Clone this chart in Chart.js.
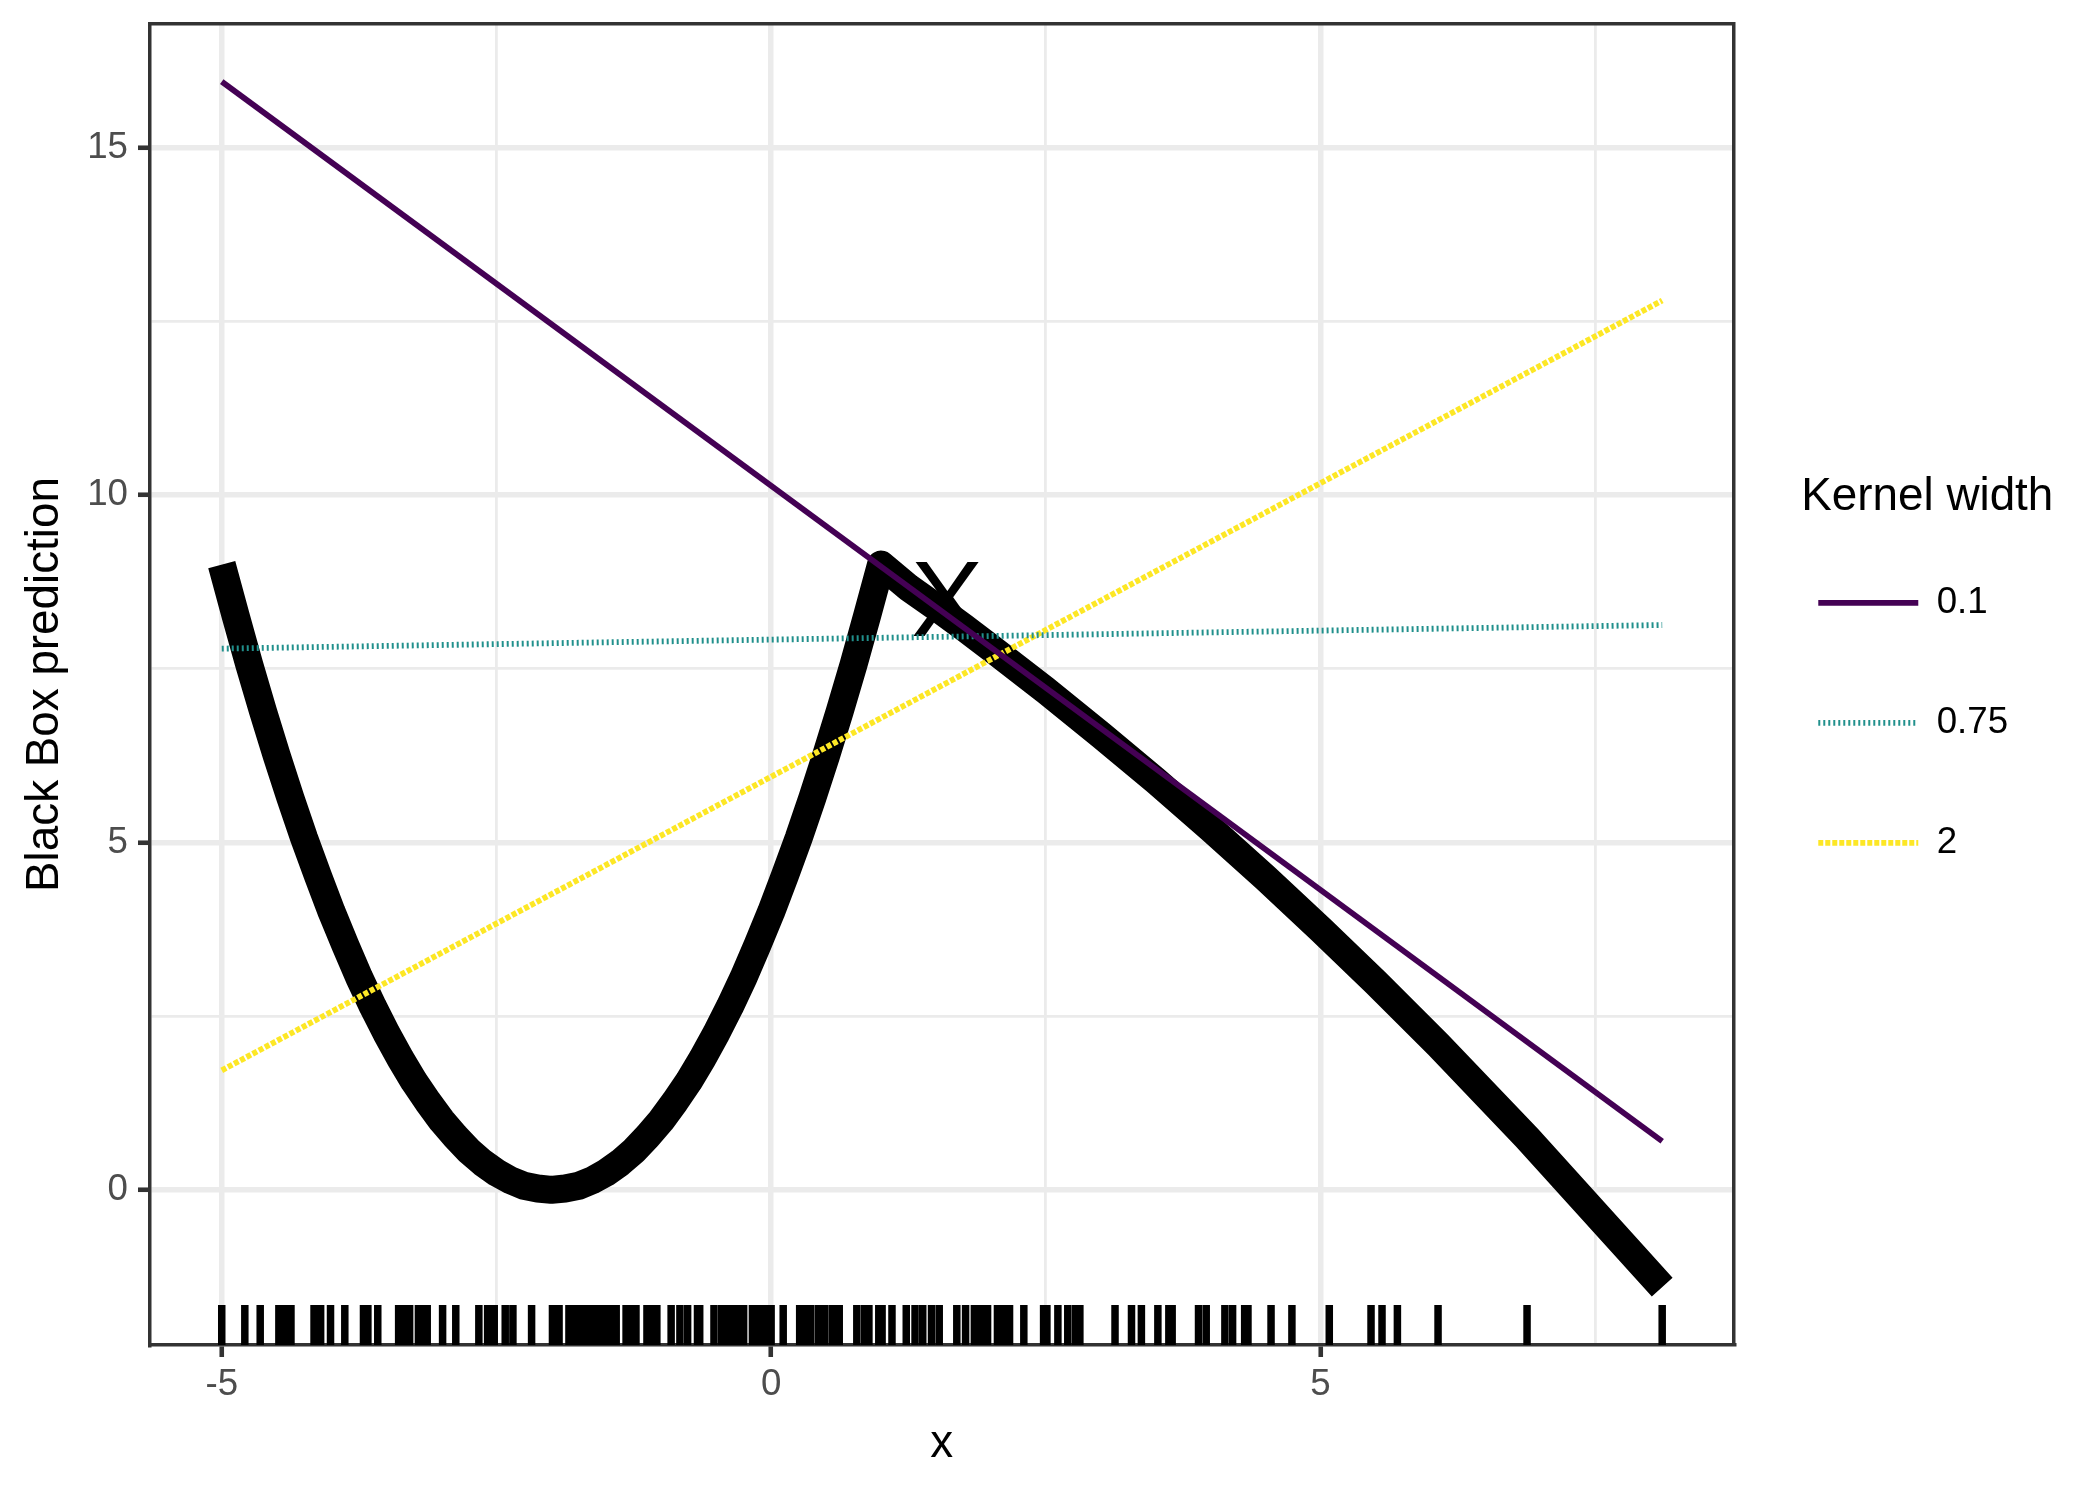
<!DOCTYPE html>
<html>
<head>
<meta charset="utf-8">
<title>Black Box prediction</title>
<script src="https://cdn.jsdelivr.net/npm/chart.js@4.4.1/dist/chart.umd.min.js"></script>
<style>
  html, body { margin: 0; padding: 0; background: #fff; }
</style>
</head>
<body>
<canvas id="chart" width="2100" height="1500"></canvas>
<script>
// black box prediction curve
const curveX = [-5, -4.875, -4.75, -4.625, -4.5, -4.375, -4.25, -4.125, -4, -3.875, -3.75, -3.625, -3.5, -3.375, -3.25, -3.125,
  -3, -2.875, -2.75, -2.625, -2.5, -2.375, -2.25, -2.125, -2, -1.875, -1.75, -1.625, -1.5, -1.375, -1.25, -1.125,
  -1, -0.875, -0.75, -0.625, -0.5, -0.375, -0.25, -0.125, 0, 0.125, 0.25, 0.375, 0.5, 0.625, 0.75, 0.875, 1,
  1.25, 1.5, 1.75, 2, 2.5, 3, 3.5, 4, 4.5, 5, 5.5, 6.07, 6.88, 8.11];
const curveY = [9.0, 8.27, 7.56, 6.89, 6.25, 5.64, 5.06, 4.52, 4.0, 3.52, 3.06, 2.64, 2.25, 1.89, 1.56, 1.27,
  1.0, 0.77, 0.56, 0.39, 0.25, 0.14, 0.06, 0.02, 0.0, 0.02, 0.06, 0.14, 0.25, 0.39, 0.56, 0.77,
  1.0, 1.27, 1.56, 1.89, 2.25, 2.64, 3.06, 3.52, 4.0, 4.52, 5.06, 5.64, 6.25, 6.89, 7.56, 8.27, 9.0,
  8.67, 8.39, 8.10, 7.80, 7.19, 6.55, 5.89, 5.20, 4.49, 3.75, 2.99, 2.09, 0.75, -1.40];

// local linear fits, one per kernel width
const kernelWidths = ['0.1', '0.75', '2'];
const fitX = [-5, 8.11];
const fitY01 = [15.95, 0.70];
const fitY075 = [7.79, 8.13];
const fitY2 = [1.72, 12.80];

// sampled x values (rug)
const sampleX = [-5.0, -4.79, -4.65, -4.48, -4.42, -4.37, -4.16, -4.10, -4.01, -3.88, -3.71, -3.67, -3.58, -3.39, -3.33, -3.29,
  -3.21, -3.16, -3.13, -2.99, -2.87, -2.66, -2.58, -2.52, -2.42, -2.35, -2.18, -1.99, -1.93, -1.84, -1.81, -1.75, -1.70, -1.64,
  -1.58, -1.53, -1.47, -1.41, -1.32, -1.27, -1.23, -1.13, -1.08, -1.04, -0.91, -0.83, -0.76, -0.67, -0.65, -0.52, -0.45, -0.39,
  -0.33, -0.29, -0.25, -0.17, -0.12, -0.08, -0.04, 0.0, 0.11, 0.26, 0.30, 0.36, 0.43, 0.49, 0.56, 0.62, 0.78, 0.85, 0.89, 0.98,
  1.01, 1.10, 1.23, 1.31, 1.38, 1.46, 1.53, 1.69, 1.77, 1.85, 1.91, 1.97, 2.06, 2.11, 2.17, 2.30, 2.48, 2.51, 2.61, 2.70, 2.77,
  2.81, 3.13, 3.28, 3.37, 3.52, 3.62, 3.65, 3.89, 3.96, 4.13, 4.20, 4.31, 4.34, 4.55, 4.74, 5.08, 5.46, 5.56, 5.70, 6.07, 6.88, 8.11];

// instance being explained
const instanceX = 1.60;
const instanceY = 7.97;

const xTicks = [-5, -2.5, 0, 2.5, 5, 7.5];
const yTicks = [0, 2.5, 5, 7.5, 10, 12.5, 15];

const FONT = 'Liberation Sans';
Chart.defaults.font.family = FONT;

const isMajor = v => v % 5 === 0;
const pts = (xs, ys) => xs.map((x, i) => ({x: x, y: ys[i]}));
const rugBase = -1.945;

const instanceLabel = {
    id: 'instanceLabel',
    beforeDatasetsDraw(chart) {
        const {ctx, scales} = chart;
        ctx.save();
        ctx.font = '108px "' + FONT + '"';
        ctx.fillStyle = '#000';
        ctx.textAlign = 'center';
        ctx.textBaseline = 'alphabetic';
        ctx.fillText('X', scales.x.getPixelForValue(instanceX), scales.y.getPixelForValue(instanceY));
        ctx.restore();
    }
};

const lineColors = ['#440154', '#21908C', '#FDE725'];
const lineDashes = [[], [2, 3], [5, 2]];
const fits = [fitY01, fitY075, fitY2];

const datasets = kernelWidths.map((k, i) => ({
    label: k,
    data: pts(fitX, fits[i]),
    showLine: true,
    borderColor: lineColors[i],
    borderWidth: 5.8,
    borderDash: lineDashes[i],
    pointRadius: 0
}));

datasets.push({
    label: 'prediction',
    data: pts(curveX, curveY),
    showLine: true,
    borderColor: '#000',
    borderWidth: 28,
    borderJoinStyle: 'round',
    borderCapStyle: 'butt',
    pointRadius: 0
});

datasets.push({
    label: 'rug',
    data: sampleX.map(x => ({x: x, y: rugBase})),
    showLine: false,
    pointStyle: 'line',
    pointRotation: 90,
    pointRadius: 20,
    pointBorderWidth: 7.5,
    pointBorderColor: '#000',
    pointBackgroundColor: '#000'
});

const tickFont = {family: FONT, size: 36.7};
const titleFont = {family: FONT, size: 45.8};
const noPad = s => { s.paddingTop = 0; s.paddingBottom = 0; s.paddingLeft = 0; s.paddingRight = 0; };
const pad = '\u00a0\u00a0\u00a0\u00a0\u00a0';

new Chart(document.getElementById('chart'), {
    type: 'scatter',
    data: {datasets: datasets},
    plugins: [instanceLabel],
    options: {
        responsive: false,
        animation: false,
        events: [],
        layout: {autoPadding: false, padding: {top: 24, right: 31, bottom: 0, left: 0}},
        plugins: {
            tooltip: {enabled: false},
            legend: {
                position: 'right',
                align: 'start',
                title: {
                    display: true,
                    text: 'Kernel width',
                    position: 'start',
                    color: '#000',
                    font: titleFont,
                    padding: {top: 450, bottom: 38.6}
                },
                labels: {
                    usePointStyle: true,
                    pointStyle: 'line',
                    pointStyleWidth: 100,
                    boxWidth: 100,
                    padding: 17,
                    color: '#000',
                    font: {family: FONT, size: 36.7, lineHeight: '103px'},
                    generateLabels(chart) {
                        return chart.data.datasets.slice(0, 3).map((ds, i) => ({
                            text: [ds.label + pad],
                            strokeStyle: ds.borderColor,
                            fillStyle: ds.borderColor,
                            lineWidth: ds.borderWidth,
                            lineDash: ds.borderDash,
                            lineCap: 'butt',
                            pointStyle: 'line',
                            fontColor: '#000',
                            hidden: false,
                            datasetIndex: i
                        }));
                    }
                }
            }
        },
        scales: {
            x: {
                type: 'linear',
                position: 'bottom',
                min: -5.653,
                max: 8.757,
                afterBuildTicks: s => { s.ticks = xTicks.map(v => ({value: v})); },
                afterFit: s => { s.height = 155; noPad(s); },
                grid: {
                    color: '#EBEBEB',
                    lineWidth: c => isMajor(c.tick.value) ? 5.5 : 2.8,
                    drawTicks: true,
                    tickLength: 12,
                    tickWidth: 4.6,
                    tickColor: c => isMajor(c.tick.value) ? '#333333' : 'rgba(0,0,0,0)'
                },
                border: {display: true, color: '#333333', width: 3.5},
                ticks: {
                    autoSkip: false,
                    maxRotation: 0,
                    padding: 6,
                    color: '#4D4D4D',
                    font: tickFont,
                    callback: v => isMajor(v) ? String(v) : ''
                },
                title: {display: true, text: 'x', color: '#000', font: titleFont, padding: {top: 0, bottom: 28.5}}
            },
            y: {
                type: 'linear',
                position: 'left',
                min: -2.233,
                max: 16.78,
                afterBuildTicks: s => { s.ticks = yTicks.map(v => ({value: v})); },
                afterFit: s => { s.width = 150; noPad(s); },
                grid: {
                    color: '#EBEBEB',
                    lineWidth: c => isMajor(c.tick.value) ? 5.5 : 2.8,
                    drawTicks: true,
                    tickLength: 12,
                    tickWidth: 4.6,
                    tickColor: c => isMajor(c.tick.value) ? '#333333' : 'rgba(0,0,0,0)'
                },
                border: {display: true, color: '#333333', width: 3.5},
                ticks: {
                    autoSkip: false,
                    padding: 10,
                    color: '#4D4D4D',
                    font: tickFont,
                    callback: v => isMajor(v) ? String(v) : ''
                },
                title: {display: true, text: 'Black Box prediction', color: '#000', font: titleFont, padding: {top: 17.5, bottom: 0}}
            },
            // frame only: top and right edges of the panel
            x2: {
                type: 'linear',
                position: 'top',
                min: 0, max: 1,
                afterFit: s => { s.height = 0; noPad(s); },
                grid: {display: false, drawTicks: false},
                ticks: {display: false},
                border: {display: true, color: '#333333', width: 3.5}
            },
            y2: {
                type: 'linear',
                position: 'right',
                min: 0, max: 1,
                afterFit: s => { s.width = 68; noPad(s); },
                grid: {display: false, drawTicks: false},
                ticks: {display: false},
                border: {display: true, color: '#333333', width: 3.5}
            }
        }
    }
});
</script>
</body>
</html>
